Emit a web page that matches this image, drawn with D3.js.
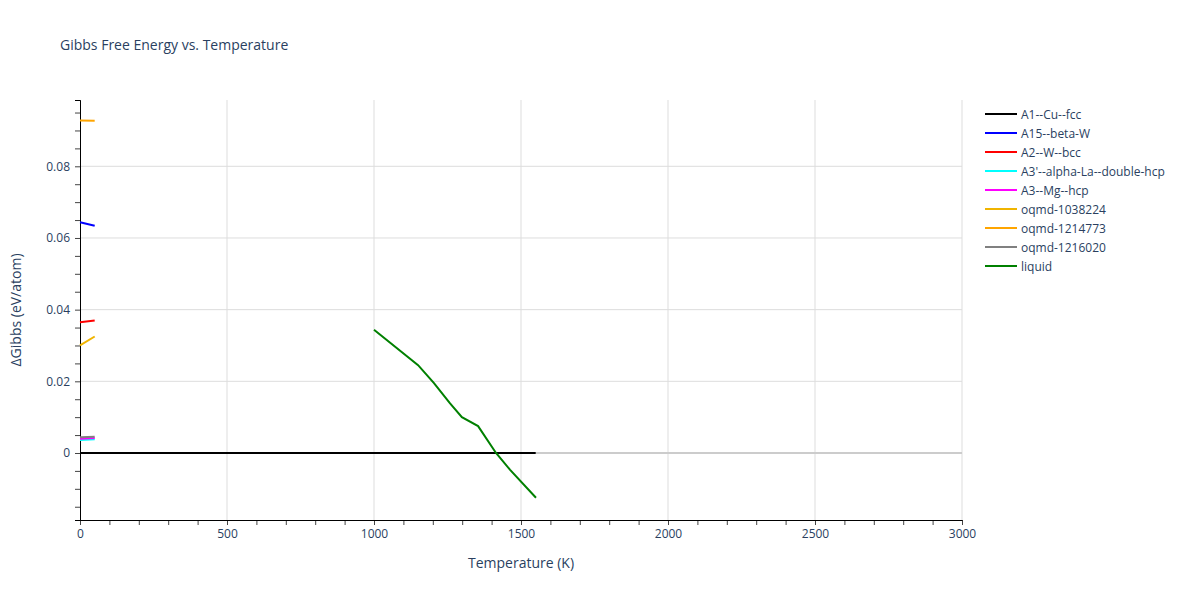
<!DOCTYPE html>
<html><head><meta charset="utf-8">
<script src="https://cdn.jsdelivr.net/npm/d3@7"></script>
<style>body{margin:0;background:#fff;font-family:"Open Sans",sans-serif}</style>
</head><body><svg id="chart" width="1200" height="600"></svg>
<script>
// series names and colors
var names = ["A1--Cu--fcc","A15--beta-W","A2--W--bcc","A3'--alpha-La--double-hcp","A3--Mg--hcp","oqmd-1038224","oqmd-1214773","oqmd-1216020","liquid"];
var colors = ["black","blue","red","cyan","magenta","#f0b400","orange","gray","green"];
// temperatures and values per series
var temps = [
  [0, 1550],
  [0, 50],
  [0, 50],
  [0, 50],
  [0, 50],
  [0, 50],
  [0, 50],
  [0, 50],
  [1000, 1150, 1204, 1258, 1299, 1354, 1415, 1463, 1551]
];
var values = [
  [0, 0],
  [0.0644, 0.0634],
  [0.0365, 0.0370],
  [0.0036, 0.0038],
  [0.0040, 0.0042],
  [0.0300, 0.0325],
  [0.0928, 0.0927],
  [0.0044, 0.0045],
  [0.0344, 0.0245, 0.0195, 0.0139, 0.0100, 0.0075, 0.0, -0.0047, -0.0125]
];
var xTicks = [0, 500, 1000, 1500, 2000, 2500, 3000];
var yTicks = [0, 0.02, 0.04, 0.06, 0.08];

(function() {
var textColor = "#2a3f5f";
var svg = d3.select("#chart");
var pl = 80, pr = 962, pt = 100, pb = 520;
var x = d3.scaleLinear().domain([0, 3000]).range([pl, pr]);
var y = d3.scaleLinear().domain([-0.0187, 0.0985]).range([pb, pt]);

// grid
svg.selectAll(".gx").data(xTicks.slice(1)).enter().append("line")
  .attr("x1", d => x(d)).attr("x2", d => x(d)).attr("y1", pt).attr("y2", pb)
  .attr("stroke", "#ddd");
svg.selectAll(".gy").data(yTicks).enter().append("line")
  .attr("x1", pl).attr("x2", pr).attr("y1", d => y(d)).attr("y2", d => y(d))
  .attr("stroke", d => d === 0 ? "#ccc" : "#ddd").attr("stroke-width", d => d === 0 ? 2 : 1);

// axes with minor ticks
var xa = svg.append("g").attr("transform", "translate(0," + pb + ")");
xa.call(d3.axisBottom(x).tickValues(d3.range(0, 3001, 100)).tickSize(5).tickFormat(""));
xa.selectAll(".tick line").attr("stroke", "#444");
var xa2 = svg.append("g").attr("transform", "translate(0," + pb + ")");
xa2.call(d3.axisBottom(x).tickValues(xTicks).tickSize(0).tickPadding(9).tickFormat(d3.format("d")));
xa2.select(".domain").attr("stroke", "black");
var ya = svg.append("g").attr("transform", "translate(" + pl + ",0)");
ya.call(d3.axisLeft(y).tickValues(d3.range(-0.015, 0.0951, 0.005)).tickSize(5).tickFormat(""));
ya.selectAll(".tick line").attr("stroke", "#444");
var ya2 = svg.append("g").attr("transform", "translate(" + pl + ",0)");
ya2.call(d3.axisLeft(y).tickValues(yTicks).tickSize(0).tickPadding(10).tickFormat(d => d === 0 ? "0" : d3.format(".2f")(d)));
ya2.select(".domain").attr("stroke", "black");
svg.selectAll("text").attr("font-family", "Open Sans, sans-serif").attr("font-size", 12).attr("fill", textColor);

// lines
var line = d3.line().x(d => x(d[0])).y(d => y(d[1]));
names.forEach(function(n, i) {
  var pts = temps[i].map((t, j) => [t, values[i][j]]);
  svg.append("path").datum(pts).attr("d", line).attr("fill", "none")
    .attr("stroke", colors[i]).attr("stroke-width", 2);
});

// titles
svg.append("text").attr("x", 60).attr("y", 50).text("Gibbs Free Energy vs. Temperature")
  .attr("font-size", 14).attr("fill", textColor);
svg.append("text").attr("x", 521).attr("y", 568).attr("text-anchor", "middle")
  .text("Temperature (K)").attr("font-size", 14).attr("fill", textColor);
svg.append("text").attr("transform", "translate(21,310) rotate(-90)").attr("text-anchor", "middle")
  .text("ΔGibbs (eV/atom)").attr("font-size", 14).attr("fill", textColor);

// legend
var lg = svg.selectAll(".lg").data(names).enter().append("g")
  .attr("transform", (d, i) => "translate(985," + (114 + i * 19) + ")");
lg.append("line").attr("x1", 0).attr("x2", 32).attr("stroke", (d, i) => colors[i]).attr("stroke-width", 2);
lg.append("text").attr("x", 36).attr("y", 4.5).text(d => d).attr("font-size", 12).attr("fill", textColor);
})();
</script></body></html>
